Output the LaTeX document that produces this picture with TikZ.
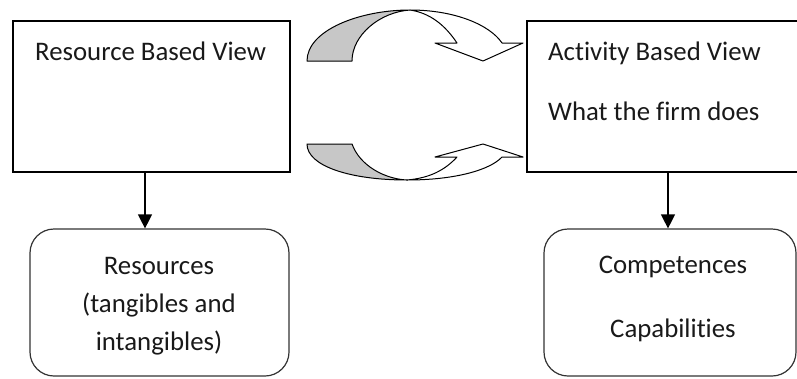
\documentclass[tikz,border=0pt]{standalone}
\usepackage{fontspec}
\setmainfont{Carlito}[Ligatures=CommonOff]
\usetikzlibrary{arrows.meta}
\tikzset{
  viewbox/.style={draw=black, line width=1.3pt, rectangle, minimum width=277pt, minimum height=151pt, inner sep=0pt},
  roundbox/.style={draw=black!80, line width=1.2pt, rectangle, rounded corners=24pt, inner sep=0pt},
  txt/.style={font=\fontsize{26.8}{32}\selectfont, inner sep=0pt, text=black!90},
  arr/.style={line width=1.2pt, -{Triangle[width=14pt,length=14pt]}},
  ribbon/.style={draw=black, line width=1pt, line join=round},
}
\begin{document}
\begin{tikzpicture}[x=1pt, y=-1pt]
  \useasboundingbox (0,0) rectangle (797,378);
  \clip (0,0) rectangle (797,378);

  % top row: the two views
  \node[viewbox] (rbv) at (151.5,96.5) {};
  \node[viewbox] (abv) at (665.5,96.5) {};
  \node[txt, anchor=base west] (rbvT) at (35,60) {Resource Based View};
  \node[txt, anchor=base west] (abvT) at (548,60) {Activity Based View};
  \node[txt, anchor=base west] (abvS) at (548,120) {What the firm does};

  % bottom row: what each view looks at
  \node[roundbox, minimum width=259pt, minimum height=147pt] (res) at (159.5,302.5) {};
  \node[roundbox, minimum width=252pt, minimum height=147pt] (comp) at (670,302.5) {};
  \node[txt, anchor=base] (resA) at (159,274) {Resources};
  \node[txt, anchor=base] (resB) at (159,312) {(tangibles and};
  \node[txt, anchor=base] (resC) at (159,350) {intangibles)};
  \node[txt, anchor=base] (compA) at (673,273) {Competences};
  \node[txt, anchor=base] (compB) at (673,337) {Capabilities};

  % downward connectors
  \draw[arr] (rbv.south -| 145,0) -- (res.north -| 145,0);
  \draw[arr] (abv.south -| 668,0) -- (comp.north -| 668,0);

  % upper curved ribbon arrow (to the right)
  \filldraw[ribbon, fill=black!22]
    (307,61) -- (352,61) .. controls (352,35) and (380,12) .. (410,10)
    .. controls (360,10) and (307,30) .. cycle;
  \filldraw[ribbon, fill=white]
    (410,10) .. controls (455,10) and (490,25) .. (502,43)
    -- (523,43) -- (483,61) -- (435,43) -- (457,43)
    .. controls (445,25) and (430,13) .. cycle;

  % lower curved ribbon arrow (back to the right)
  \filldraw[ribbon, fill=black!22]
    (307,144) -- (352,144) .. controls (360,166) and (385,179) .. (407,180)
    .. controls (350,180) and (307,166) .. cycle;
  \filldraw[ribbon, fill=white]
    (407,180) .. controls (455,180) and (490,170) .. (502,157)
    -- (523,157) -- (483,144) -- (435,157) -- (457,157)
    .. controls (445,170) and (430,178) .. cycle;
\end{tikzpicture}
\end{document}
